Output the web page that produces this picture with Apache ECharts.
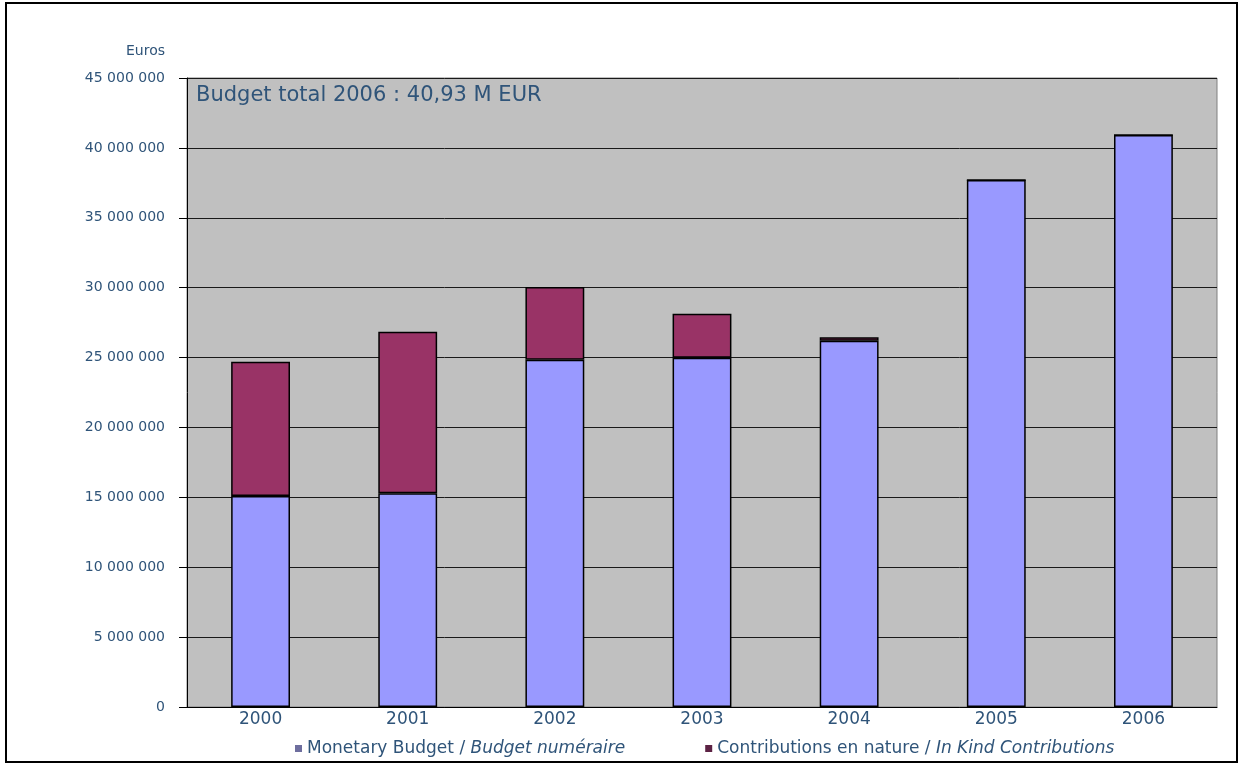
<!DOCTYPE html>
<html>
<head>
<meta charset="utf-8">
<script src="https://cdn.jsdelivr.net/npm/echarts@6/dist/echarts.min.js"></script>
<style>
  html, body { margin: 0; padding: 0; background: #fff; }
  #chart { width: 1240px; height: 765px; }
</style>
</head>
<body>
<div id="chart"></div>
<script>
// data
const years = ['2000', '2001', '2002', '2003', '2004', '2005', '2006']
const monetary = [15100000, 15300000, 24850000, 24980000, 26200000, 37700000, 40930000]
const inKind = [9600000, 11550000, 5200000, 3150000, 250000, 0, 0]
const yTicks = [0, 5000000, 10000000, 15000000, 20000000, 25000000, 30000000, 35000000, 40000000, 45000000]

const txt = '#2F5479'
const fnt = '"DejaVu Sans", sans-serif'

const fmt = (v) => String(v).replace(/\B(?=(\d{3})+(?!\d))/g, ' ')

const chart = echarts.init(document.getElementById('chart'))
chart.setOption({
  backgroundColor: '#fff',
  animation: false,
  textStyle: { fontFamily: fnt },
  grid: {
    left: 187,
    right: 23,
    top: 78,
    bottom: 58,
    show: true,
    backgroundColor: '#C0C0C0',
    borderColor: '#808080',
    borderWidth: 1
  },
  graphic: [
    {
      type: 'rect',
      shape: { x: 6, y: 3, width: 1231, height: 759 },
      style: { fill: 'none', stroke: '#000', lineWidth: 2 },
      silent: true
    },
    {
      type: 'text',
      left: 196,
      top: 85,
      style: {
        text: 'Budget total 2006 : 40,93 M EUR',
        fill: txt,
        font: '21px ' + fnt
      }
    }
  ],
  legend: {
    left: 290,
    bottom: 3,
    itemWidth: 7,
    itemHeight: 7,
    itemGap: 80,
    icon: 'rect',
    itemStyle: { borderWidth: 0 },
    data: [
      { name: 'Monetary Budget', itemStyle: { color: '#6E6E9E' } },
      { name: 'Contributions en nature', itemStyle: { color: '#5C2244' } }
    ],
    formatter: (name) => {
      if (name === 'Monetary Budget') return '{n|Monetary Budget / }{i|Budget numéraire}'
      return '{n|Contributions en nature / }{i|In Kind Contributions}'
    },
    textStyle: {
      color: txt,
      fontSize: 17,
      rich: {
        n: { color: txt, fontSize: 17, fontFamily: fnt },
        i: { color: txt, fontSize: 17, fontFamily: fnt, fontStyle: 'italic' }
      }
    }
  },
  xAxis: {
    type: 'category',
    data: years,
    axisLine: { lineStyle: { color: '#000', width: 1 } },
    axisTick: { length: 7, lineStyle: { color: '#000' } },
    axisLabel: { color: txt, fontSize: 17, margin: 4 }
  },
  yAxis: {
    type: 'value',
    min: 0,
    max: 45000000,
    interval: 5000000,
    name: 'Euros',
    nameLocation: 'end',
    nameGap: 20,
    nameTextStyle: { color: txt, fontSize: 14, align: 'right', padding: [0, 22, 0, 0] },
    axisLine: { show: true, lineStyle: { color: '#000', width: 1 } },
    axisTick: { show: true, length: 8, lineStyle: { color: '#000' } },
    axisLabel: {
      color: txt,
      fontSize: 14,
      margin: 22,
      formatter: (v) => (yTicks.includes(v) ? fmt(v) : '')
    },
    splitLine: { lineStyle: { color: '#1a1a1a', width: 1 } }
  },
  series: [
    {
      name: 'Monetary Budget',
      type: 'bar',
      stack: 'b',
      barWidth: '40%',
      data: monetary,
      itemStyle: { color: '#9999FF', borderColor: '#000', borderWidth: 1.5 }
    },
    {
      name: 'Contributions en nature',
      type: 'bar',
      stack: 'b',
      barWidth: '40%',
      data: inKind,
      itemStyle: { color: '#993366', borderColor: '#000', borderWidth: 1.5 }
    }
  ]
})
</script>
</body>
</html>
